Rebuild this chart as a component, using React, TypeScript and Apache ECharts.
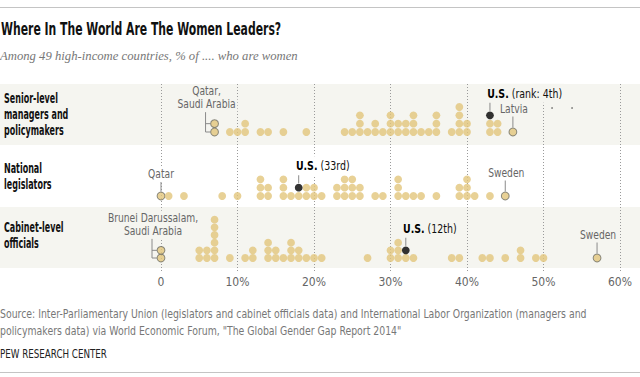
import React, { useEffect, useRef } from "react";
import * as echarts from "echarts";

// ---------- data ----------
const xTicks = [0, 10, 20, 30, 40, 50, 60];
const rowLabels = ["Senior-level\nmanagers and\npolicymakers", "National\nlegislators", "Cabinet-level\nofficials"];

// Senior-level managers and policymakers (% women)
const managersLow = [7, 7];
const managersLowNames = ["Qatar,", "Saudi Arabia"];
const managersOthers = [9, 10, 11, 11, 13, 14, 16, 19, 24, 25, 26, 26, 26, 27, 28, 28, 29, 30, 30, 30, 31, 31, 32, 32, 33, 33, 33, 34, 35, 36, 36, 36, 38, 39, 39, 39, 39, 40, 40, 43, 43, 44, 44];
const managersUS = 43;
const managersUSRank = "(rank: 4th)";
const managersHigh = 46;
const managersHighName = "Latvia";

// National legislators
const legislatorsLow = [0];
const legislatorsLowNames = ["Qatar"];
const legislatorsOthers = [1, 3, 8, 10, 13, 13, 13, 14, 14, 16, 16, 16, 17, 18, 19, 19, 20, 20, 21, 23, 23, 24, 24, 24, 25, 25, 25, 26, 26, 28, 29, 31, 31, 31, 32, 33, 34, 36, 39, 39, 40, 40, 40, 41, 43];
const legislatorsUS = 18;
const legislatorsUSRank = "(33rd)";
const legislatorsHigh = 45;
const legislatorsHighName = "Sweden";

// Cabinet-level officials
const cabinetLow = [0, 0];
const cabinetLowNames = ["Brunei Darussalam,", "Saudi Arabia"];
const cabinetOthers = [5, 5, 6, 6, 7, 7, 7, 7, 7, 7, 9, 11, 12, 12, 14, 14, 14, 15, 15, 16, 17, 17, 17, 18, 18, 19, 20, 21, 27, 30, 30, 31, 31, 31, 32, 33, 38, 39, 42, 43, 45, 47, 47, 49, 50];
const cabinetUS = 32;
const cabinetUSRank = "(12th)";
const cabinetHigh = 57;
const cabinetHighName = "Sweden";

const titleText = "Where In The World Are The Women Leaders?";
const subtitleText = "Among 49 high-income countries, % of .... who are women";
const sourceLines = [
  "Source: Inter-Parliamentary Union (legislators and cabinet officials data) and International Labor Organization (managers and",
  "policymakers data) via World Economic Forum, \"The Global Gender Gap Report 2014\"",
];
const creditText = "PEW RESEARCH CENTER";

// ---------- styles / layout ----------
const NARROW = "'Liberation Sans Narrow', 'DejaVu Sans Condensed', 'Roboto Condensed', Roboto, sans-serif";
const SERIF = "'Liberation Serif', 'DejaVu Serif', serif";
const GOLD = "#e2c67c";
const BAND = "#f5f5f0";
const PLOT_LEFT = 161;
const PLOT_RIGHT = 20;
const rowGrids = [
  { top: 82, height: 50, bandTop: 84, bandH: 61, bg: BAND },
  { top: 146, height: 50, bandTop: 145, bandH: 62, bg: "#ffffff" },
  { top: 212, height: 46, bandTop: 207, bandH: 61, bg: BAND },
];

type Pt = { value: [number, number]; kind: string };
function buildRow(low: number[], others: number[], us: number, high: number) {
  const counts: Record<number, number> = {};
  const pts: Pt[] = [];
  const add = (v: number, kind: string) => {
    const l = counts[v] || 0;
    counts[v] = l + 1;
    const p: Pt = { value: [v, l], kind };
    pts.push(p);
    return p;
  };
  const lowPts = low.map((v) => add(v, "outline"));
  others.forEach((v) => add(v, "plain"));
  const usPt = add(us, "us");
  const highPt = add(high, "outline");
  return { pts, lowPts, usPt, highPt };
}

export default function App() {
  const ref = useRef<HTMLDivElement>(null);
  useEffect(() => {
    document.body.style.margin = "0";
    const chart = echarts.init(ref.current!, null, { renderer: "svg" });
    const rows = [
      { ...buildRow(managersLow, managersOthers, managersUS, managersHigh), lowNames: managersLowNames, rank: managersUSRank, highName: managersHighName },
      { ...buildRow(legislatorsLow, legislatorsOthers, legislatorsUS, legislatorsHigh), lowNames: legislatorsLowNames, rank: legislatorsUSRank, highName: legislatorsHighName },
      { ...buildRow(cabinetLow, cabinetOthers, cabinetUS, cabinetHigh), lowNames: cabinetLowNames, rank: cabinetUSRank, highName: cabinetHighName },
    ];

    const grids: any[] = rowGrids.map((g) => ({ left: PLOT_LEFT, right: PLOT_RIGHT, top: g.top, height: g.height }));
    grids.push({ left: PLOT_LEFT, right: PLOT_RIGHT, top: 84, height: 187 });
    const xAxes: any[] = rowGrids.map((_, i) => ({ type: "value", gridIndex: i, min: 0, max: 60, show: false }));
    xAxes.push({
      type: "value", gridIndex: 3, min: xTicks[0], max: xTicks[xTicks.length - 1], interval: 10,
      axisLine: { show: false }, axisTick: { show: false },
      splitLine: { show: true, lineStyle: { color: "#9a9a9a", type: [1, 2], width: 1 } },
      axisLabel: { color: "#666", fontSize: 12, fontFamily: NARROW, margin: 5, formatter: (v: number) => (v === 0 ? "0" : v + "%") },
    });
    const yAxes: any[] = rowGrids.map((_, i) => ({ type: "value", gridIndex: i, min: 0, max: 6, show: false }));
    yAxes.push({ type: "value", gridIndex: 3, min: 0, max: 1, show: false });

    const series: any[] = rows.map((r, i) => ({
      type: "scatter", xAxisIndex: i, yAxisIndex: i, symbol: "circle", symbolSize: 7.8, z: 5,
      data: r.pts.map((p) => ({
        value: p.value,
        itemStyle: p.kind === "us" ? { color: "#000" } : p.kind === "outline" ? { color: GOLD, borderColor: "#6f6f66", borderWidth: 1 } : { color: GOLD },
      })),
    }));

    chart.setOption({ animation: false, grid: grids, xAxis: xAxes, yAxis: yAxes, series });

    const px = (g: number, v: [number, number]) => chart.convertToPixel({ gridIndex: g }, v) as number[];
    const gfx: any[] = [];
    const line = (x1: number, y1: number, x2: number, y2: number) =>
      gfx.push({ type: "line", z: 20, shape: { x1, y1, x2, y2 }, style: { stroke: "#8a8a8a", lineWidth: 1 } });
    const txt = (x: number, y: number, text: string, o: any = {}, sx = 1) =>
      gfx.push({ type: "text", z: 30, x, y, scaleX: sx, style: { text, fontFamily: NARROW, fontSize: 12, fill: "#666", align: "center", verticalAlign: "middle", ...o } });

    // bands
    rowGrids.forEach((g) => {
      if (g.bg !== "#ffffff") gfx.push({ type: "rect", z: -1, shape: { x: 0, y: g.bandTop, width: 640, height: g.bandH }, style: { fill: g.bg } });
    });
    // frame lines
    gfx.push({ type: "line", z: 1, shape: { x1: 0, y1: 7.5, x2: 640, y2: 7.5 }, style: { stroke: "#c4c4c4", lineWidth: 1 } });
    gfx.push({ type: "line", z: 1, shape: { x1: 0, y1: 372.5, x2: 640, y2: 372.5 }, style: { stroke: "#c4c4c4", lineWidth: 1 } });
    // title etc.
    txt(1, 29, titleText, { align: "left", fontSize: 17, fontWeight: "bold", fill: "#111" }, 0.71);
    txt(0, 56, subtitleText, { align: "left", fontFamily: SERIF, fontStyle: "italic", fontSize: 12.7, fill: "#777" });
    txt(0, 314, sourceLines[0], { align: "left", fontSize: 12, fill: "#777" }, 0.866);
    txt(0, 331, sourceLines[1], { align: "left", fontSize: 12, fill: "#777" }, 0.866);
    txt(0, 354, creditText, { align: "left", fontSize: 12, fill: "#222" }, 0.81);
    // row labels
    const labelY = [114, 176, 235];
    rowLabels.forEach((t, i) => txt(4, labelY[i], t, { align: "left", fontSize: 13.5, fontWeight: "bold", fill: "#111", lineHeight: 16 }, 0.66));

    // annotations
    const ANN = 0.85;
    rows.forEach((r, g) => {
      const bg = rowGrids[g].bg;
      // lowest
      if (r.lowPts.length === 2) {
        const p0 = px(g, r.lowPts[0].value);
        const p1 = px(g, r.lowPts[1].value);
        const bx = p0[0] - 9;
        const top = p1[1] - 11.5;
        line(bx, top, bx, p0[1]);
        line(bx, p0[1], p0[0] - 4, p0[1]);
        line(bx, p1[1], p1[0] - 4, p1[1]);
        txt(bx + 1, top - 21, r.lowNames[0], { backgroundColor: bg, padding: [1, 2] }, ANN);
        txt(bx + 1, top - 7.5, r.lowNames[1], { backgroundColor: bg, padding: [1, 2] }, ANN);
      } else {
        const p = px(g, r.lowPts[0].value);
        line(p[0], p[1] - 16, p[0], p[1] - 4.5);
        txt(p[0], p[1] - 22, r.lowNames[0], { backgroundColor: bg, padding: [2, 2] }, ANN);
      }
      // highest
      const h = px(g, r.highPt.value);
      line(h[0], h[1] - 16, h[0], h[1] - 4.5);
      txt(h[0] + 1, h[1] - 22.5, r.highName, { backgroundColor: bg, padding: [1, 2] }, ANN);
      // US
      const u = px(g, r.usPt.value);
      line(u[0], u[1] - 16, u[0], u[1] - 4.5);
      gfx.push({
        type: "text", z: 30, x: u[0] - 4.5, y: u[1] - 22, scaleX: 0.84,
        style: {
          text: "{b|U.S.} " + r.rank, fontFamily: NARROW, fontSize: 12.5, fill: "#111", align: "left", verticalAlign: "middle",
          backgroundColor: bg, padding: [3, 2],
          rich: { b: { fontFamily: NARROW, fontSize: 12.5, fontWeight: "bold", fill: "#000" } },
        },
      });
    });
    // tiny specks present in the source image
    gfx.push({ type: "circle", z: 30, shape: { cx: 552, cy: 108, r: 0.7 }, style: { fill: "#222" } });
    gfx.push({ type: "circle", z: 30, shape: { cx: 572, cy: 108, r: 0.7 }, style: { fill: "#222" } });

    chart.setOption({ graphic: gfx });
    return () => chart.dispose();
  }, []);
  return <div ref={ref} style={{ width: 640, height: 377, position: "absolute", left: 0, top: 0 }} />;
}
